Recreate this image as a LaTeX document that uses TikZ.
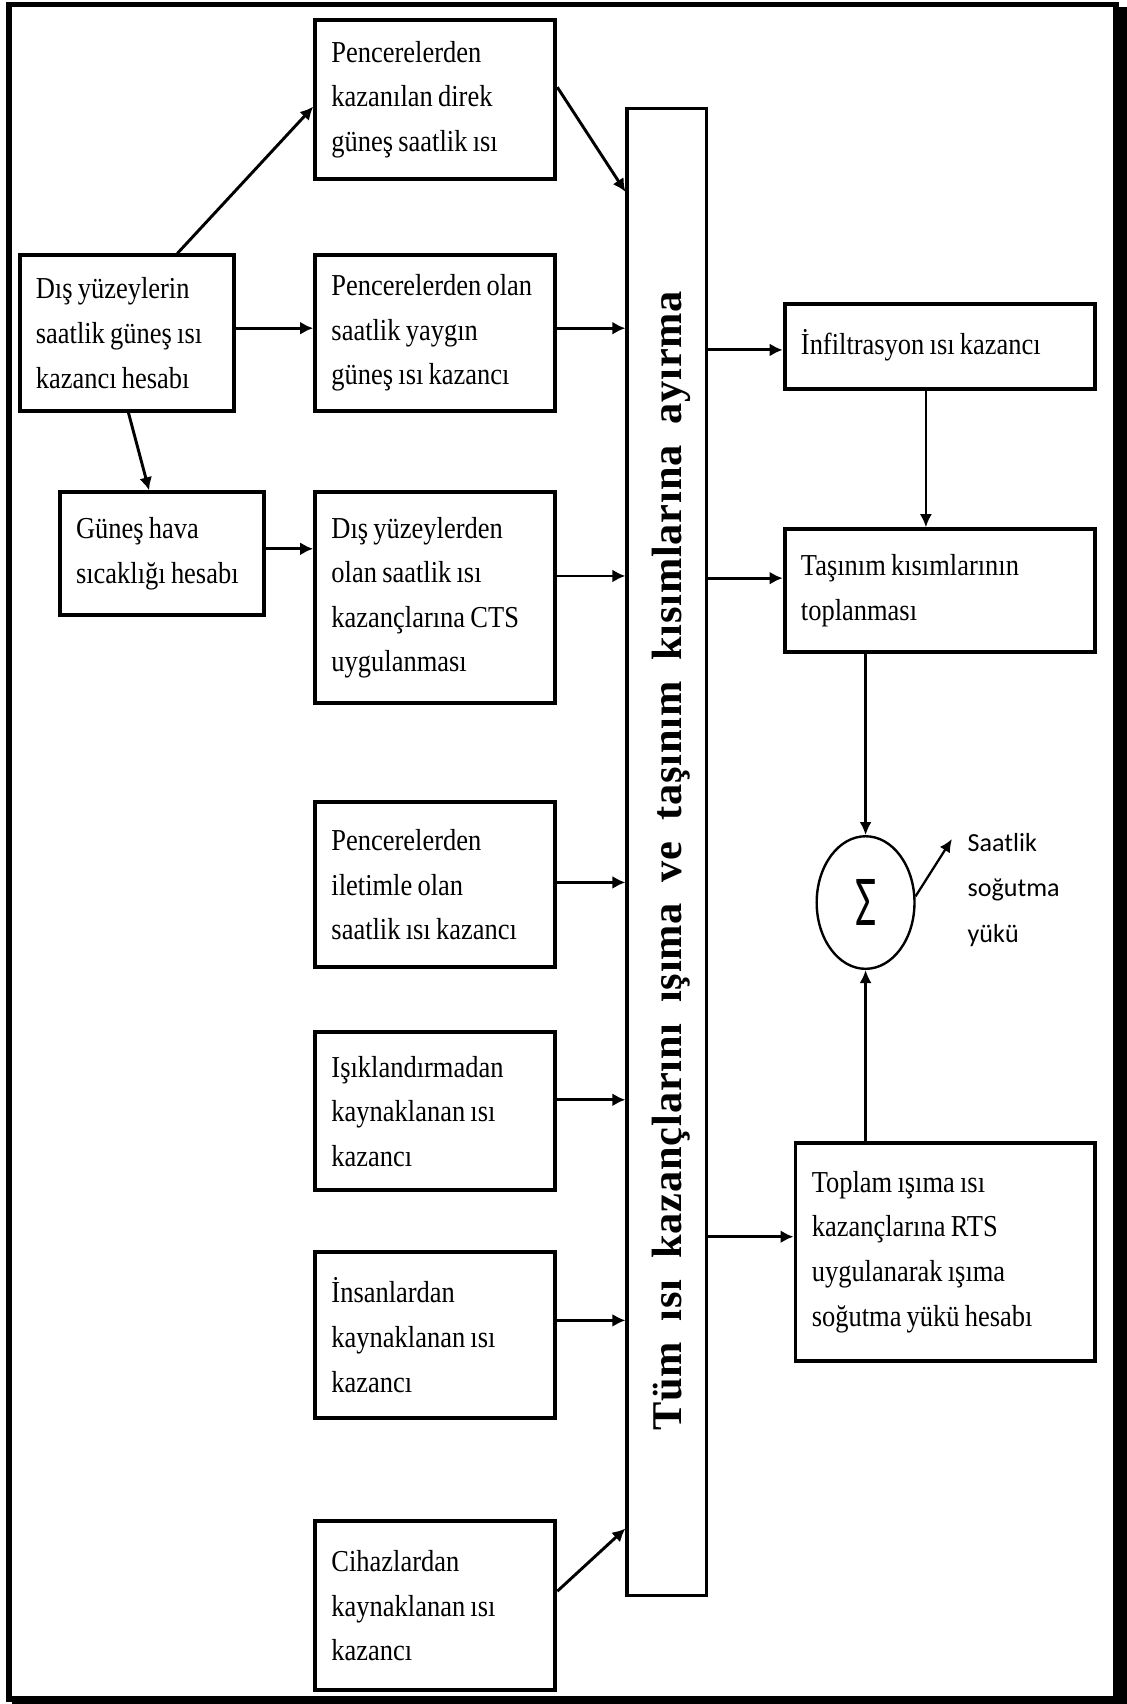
\documentclass[tikz,border=0pt]{standalone}
\usepackage{fontspec}
\usepackage{graphicx}
\setmainfont{Liberation Serif}[FakeStretch=0.87]
\newfontfamily\titlefont{Liberation Serif}[WordSpace=1.8,LetterSpace=2]
\newfontfamily\labelfont{Carlito}
\usetikzlibrary{arrows.meta,shapes.geometric}

% tighter word spacing inside the process boxes
\newcommand\tightwords{\spaceskip=2.4pt\relax}

% process box given by its left, top, right and bottom edge
\newcommand\flowbox[6]{%
  \pgfmathsetlengthmacro\bw{(#4-#2)*0.5pt}%
  \pgfmathsetlengthmacro\bh{(#5-#3)*0.5pt}%
  \pgfmathsetlengthmacro\tw{(#4-#2-30)*0.5pt}%
  \node[procbox, minimum width=\bw, minimum height=\bh, text width=\tw]
    (#1) at ({(#2+#4)/2},{(#3+#5)/2}) {\tightwords #6};}

\tikzset{
  procbox/.style={draw, line width=1.8pt, align=left, inner xsep=2pt, inner ysep=0pt,
    font=\fontsize{14pt}{20.5pt}\selectfont},
  conn/.style={line width=1.35pt, -{Latex[length=6pt,width=6pt]}},
  thinconn/.style={line width=1.05pt, -{Latex[length=6pt,width=5.5pt]}}
}

\begin{document}
\begin{tikzpicture}[x=0.5pt,y=-0.5pt]
% page and shadowed frame
\fill[white] (0,0) rectangle (1037,1568);
\fill[black] (5.5,1.8) rectangle (11,1566);
\fill[black] (5.5,1.8) rectangle (1029.6,6.4);
\fill[black] (1024.1,6.4) rectangle (1037,1568);
\fill[black] (11,1560.6) rectangle (1037,1568);

% left column
\flowbox{dis}{18}{235}{215}{378}{Dış yüzeylerin\\saatlik güneş ısı\\kazancı hesabı}
\flowbox{hava}{55}{453}{243}{566}{Güneş hava\\sıcaklığı hesabı}

% heat gain sources
\flowbox{direk}{290}{18}{511}{165}{Pencerelerden\\kazanılan direk\\güneş saatlik ısı}
\flowbox{yaygin}{290}{235}{511}{378}{Pencerelerden olan\\saatlik yaygın\\güneş ısı kazancı}
\flowbox{cts}{290}{453}{511}{647}{Dış yüzeylerden\\olan saatlik ısı\\kazançlarına CTS\\uygulanması}
\flowbox{iletim}{290}{738}{511}{890}{Pencerelerden\\iletimle olan\\saatlik ısı kazancı}
\flowbox{isik}{290}{950}{511}{1095}{Işıklandırmadan\\kaynaklanan ısı\\kazancı}
\flowbox{insan}{290}{1152}{511}{1305}{İnsanlardan\\kaynaklanan ısı\\kazancı}
\flowbox{cihaz}{290}{1400}{511}{1555}{Cihazlardan\\kaynaklanan ısı\\kazancı}

% splitting bar with its vertical title
\node[draw, line width=1.5pt, minimum width=36.5pt, minimum height=684pt, inner sep=0pt]
  (split) at (613.5,784) {};
\node[rotate=90, anchor=base, inner sep=0pt,
  font=\titlefont\bfseries\fontsize{19.5pt}{19.5pt}\selectfont]
  (splittitle) at (627,792) {Tüm ısı kazançlarını ışıma ve taşınım kısımlarına ayırma};

% right column
\flowbox{infil}{722}{280}{1008}{358}{\raisebox{4.5pt}{İnfiltrasyon ısı kazancı}}
\flowbox{tasinim}{722}{487}{1008}{600}{Taşınım kısımlarının\\toplanması}
\flowbox{rts}{732}{1052}{1008}{1252}{Toplam ışıma ısı\\kazançlarına RTS\\uygulanarak ışıma\\soğutma yükü hesabı}

% summation
\node[draw, ellipse, line width=1.1pt, minimum width=45pt, minimum height=61pt, inner sep=0pt]
  (sum) at (796.5,830.5) {\labelfont\fontsize{33pt}{33pt}\selectfont\scalebox{0.64}[1]{Σ}};
\node[anchor=west, align=left, inner sep=0pt,
  font=\labelfont\fontsize{12pt}{21pt}\selectfont]
  (out) at (890,819) {Saatlik\\soğutma\\yükü};
\coordinate (outtip) at (876,772);

% connectors on the left
\draw[conn] ([xshift=73.5pt]dis.north west) -- ([yshift=-41pt]direk.north west);
\coordinate (disout) at ([yshift=2.25pt]dis.east);
\draw[conn] (disout) -- (disout -| yaygin.west);
\draw[conn] ([xshift=51pt]dis.south west) -- ([xshift=42pt]hava.north west);
\coordinate (havaout) at ([yshift=2.25pt]hava.east);
\draw[conn] (havaout) -- (havaout -| cts.west);

% sources into the splitting bar
\draw[conn] ([yshift=-32pt]direk.north east) -- ([yshift=-39pt]split.north west);
\coordinate (yout) at ([yshift=2.25pt]yaygin.east);
\draw[conn] (yout) -- (yout -| split.west);
\coordinate (cout) at ([yshift=10pt]cts.east);
\draw[conn] (cout) -- (cout -| split.west);
\coordinate (iout) at ([yshift=1pt]iletim.east);
\draw[conn] (iout) -- (iout -| split.west);
\coordinate (lout) at ([yshift=5.25pt]isik.east);
\draw[conn] (lout) -- (lout -| split.west);
\coordinate (pout) at ([yshift=6.75pt]insan.east);
\draw[conn] (pout) -- (pout -| split.west);
\draw[conn] ([yshift=-33pt]cihaz.north east) -- ([yshift=31.5pt]split.south west);

% splitting bar to the right column
\coordinate (infin) at ([yshift=-1.5pt]infil.west);
\draw[conn] (infin -| split.east) -- (infin);
\coordinate (tasin) at ([yshift=5.75pt]tasinim.west);
\draw[conn] (tasin -| split.east) -- (tasin);
\coordinate (rtsin) at ([yshift=7pt]rts.west);
\draw[conn] (rtsin -| split.east) -- (rtsin);

% convective and radiant parts to the sum
\coordinate (infout) at ([xshift=-6.5pt]infil.south);
\draw[thinconn] (infout) -- (infout |- tasinim.north);
\draw[thinconn] (sum.north |- tasinim.south) -- (sum.north);
\draw[thinconn] (sum.south |- rts.north) -- (sum.south);
\draw[thinconn] (sum.7) -- (outtip);
\end{tikzpicture}
\end{document}
